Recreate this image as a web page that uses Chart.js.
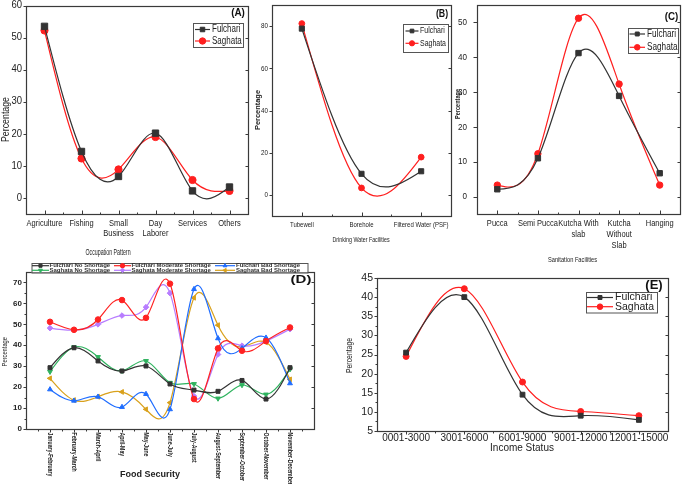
<!DOCTYPE html>
<html><head><meta charset="utf-8">
<script src="https://cdn.jsdelivr.net/npm/chart.js@4.4.1/dist/chart.umd.min.js"></script>
<style>
html,body{margin:0;padding:0;background:#fff;}
#wrap{position:relative;width:685px;height:484px;overflow:hidden;background:#fff;}
#wrap canvas{position:absolute;left:0;top:0;}
</style></head><body><div id="wrap"></div>
<script>
// ---------------- DATA ----------------
const occCategories = [['Agriculture'], ['Fishing'], ['Small', 'Business'], ['Day', 'Laborer'], ['Services'], ['Others']];
const occFulchari = [53.5, 14.5, 6.7, 20.2, 2.2, 3.4];
const occSaghata  = [52.2, 12.3, 8.9, 19.0, 5.6, 2.2];
const occTicks = [0, 10, 20, 30, 40, 50, 60];

const waterCategories = [['Tubewell'], ['Borehole'], ['Filtered Water (PSF)']];
const waterFulchari = [78.8, 10.0, 11.2];
const waterSaghata  = [81.2, 3.3, 17.9];
const waterTicks = [0, 20, 40, 60, 80];

const sanCategories = [['Pucca'], ['Semi Pucca'], ['Kutcha With', 'slab'], ['Kutcha', 'Without', 'Slab'], ['Hanging']];
const sanFulchari = [2.1, 11.0, 41.2, 28.9, 6.7];
const sanSaghata  = [3.3, 12.3, 51.2, 32.3, 3.3];
const sanTicks = [0, 10, 20, 30, 40, 50];

const foodPeriods = ['January-February', 'February-March', 'March-April', 'April-May', 'May-June', 'June-July',
  'July-August', 'August-September', 'September-October', 'October-November', 'November-December'];
const fulchariNoShortage       = [29.3, 38.8, 32.5, 27.7, 30.1, 21.5, 18.6, 18.0, 23.2, 14.3, 29.3];
const fulchariModerateShortage = [51.2, 47.4, 52.3, 61.6, 53.1, 69.4, 14.3, 38.5, 37.4, 42.0, 48.5];
const fulchariBadShortage      = [18.9, 13.5, 15.4, 10.5, 16.7, 9.4, 66.8, 43.3, 38.5, 43.6, 21.8];
const saghataNoShortage        = [27.4, 39.1, 34.4, 27.8, 32.5, 22.1, 21.5, 14.6, 21.0, 16.5, 28.6];
const saghataModerateShortage  = [48.2, 47.2, 50.0, 54.2, 58.2, 64.9, 15.7, 35.6, 39.8, 42.0, 47.7];
const saghataBadShortage       = [24.2, 13.8, 15.4, 17.7, 9.4, 12.6, 62.7, 49.6, 39.3, 41.4, 23.7];
const foodTicks = [0, 10, 20, 30, 40, 50, 60, 70];

const incomeCategories = [['0001-3000'], ['3001-6000'], ['6001-9000'], ['9001-12000'], ['12001-15000']];
const incomeFulchari = [25.5, 40.0, 14.5, 9.0, 7.9];
const incomeSaghata  = [24.5, 42.2, 17.8, 10.1, 9.0];
const incomeTicks = [5, 10, 15, 20, 25, 30, 35, 40, 45];

const seriesNames = ['Fulchari', 'Saghata'];
const foodSeriesNames = ['Fulchari No Shortage', 'Fulchari Moderate Shortage', 'Fulchari Bad Shortage',
  'Saghata No Shortage', 'Saghata Moderate Shortage', 'Saghata Bad Shortage'];
const yTitleText = 'Percentage';
const titles = {A: 'Occupation Pattern', B: 'Drinking Water Facilities', C: 'Sanitation Facilities', D: 'Food Security', E: 'Income Status'};

// ---------------- STYLE ----------------
const W = 685, H = 484;
const SANS = "'Liberation Sans', Arial, Helvetica, sans-serif";
const AXIS = '#3a3a3a';
const TEXT = '#222';
const C_F = '#333333', C_S = '#ff1f1f';
const D_COLORS = ['#333333', '#ff2222', '#1f6dff', '#2fb35f', '#b77cff', '#d9a11c'];
const D_STYLES = [['rect', 0], ['circle', 0], ['triangle', 0], ['triangle', 180], ['rectRot', 0], ['triangle', 270]];

const specs = {};
const wrap = document.getElementById('wrap');

function T(ctx, str, x, y, f) {
  ctx.save();
  ctx.translate(x, y);
  if (f.rot) ctx.rotate(f.rot * Math.PI / 180);
  ctx.scale(f.sx || 1, 1);
  ctx.font = (f.bold ? 'bold ' : '') + f.size + 'px ' + SANS;
  ctx.fillStyle = f.color || TEXT;
  ctx.textAlign = f.align || 'center';
  ctx.textBaseline = f.baseline || 'middle';
  ctx.fillText(str, 0, 0);
  ctx.restore();
}

function marker(ctx, style, r, rot, x, y, color) {
  ctx.save();
  ctx.fillStyle = color; ctx.strokeStyle = color; ctx.lineWidth = 1;
  ctx.translate(x, y); ctx.rotate((rot || 0) * Math.PI / 180);
  ctx.beginPath();
  if (style === 'rect') { const s = r * Math.SQRT1_2; ctx.rect(-s, -s, 2 * s, 2 * s); }
  else if (style === 'circle') { ctx.arc(0, 0, r, 0, Math.PI * 2); }
  else if (style === 'rectRot') { ctx.moveTo(0, -r); ctx.lineTo(r, 0); ctx.lineTo(0, r); ctx.lineTo(-r, 0); ctx.closePath(); }
  else if (style === 'triangle') {
    for (let k = 0; k < 3; k++) { const a = k * 2 * Math.PI / 3; const px = Math.sin(a) * r, py = -Math.cos(a) * r; k ? ctx.lineTo(px, py) : ctx.moveTo(px, py); }
    ctx.closePath();
  }
  ctx.fill(); ctx.stroke();
  ctx.restore();
}

function line(ctx, x0, y0, x1, y1) { ctx.beginPath(); ctx.moveTo(x0, y0); ctx.lineTo(x1, y1); ctx.stroke(); }

// Natural cubic spline tangents (in pixel space), applied as the line element's bezier control points
function splineSlopes(X, Y) {
  const n = X.length;
  const h = [];
  for (let i = 0; i < n - 1; i++) h.push(X[i + 1] - X[i]);
  const M = new Array(n).fill(0);
  if (n > 2) {
    const a = [], b = [], c = [], d = [];
    for (let i = 1; i < n - 1; i++) {
      a.push(h[i - 1]); b.push(2 * (h[i - 1] + h[i])); c.push(h[i]);
      d.push(6 * ((Y[i + 1] - Y[i]) / h[i] - (Y[i] - Y[i - 1]) / h[i - 1]));
    }
    const m = b.length;
    for (let i = 1; i < m; i++) { const w = a[i] / b[i - 1]; b[i] -= w * c[i - 1]; d[i] -= w * d[i - 1]; }
    const sol = new Array(m);
    sol[m - 1] = d[m - 1] / b[m - 1];
    for (let i = m - 2; i >= 0; i--) sol[i] = (d[i] - c[i] * sol[i + 1]) / b[i];
    for (let i = 0; i < m; i++) M[i + 1] = sol[i];
  }
  const s = [];
  for (let i = 0; i < n - 1; i++) s.push((Y[i + 1] - Y[i]) / h[i] - h[i] * (2 * M[i] + M[i + 1]) / 6);
  s.push((Y[n - 1] - Y[n - 2]) / h[n - 2] + h[n - 2] * (M[n - 2] + 2 * M[n - 1]) / 6);
  return s;
}

const splinePlugin = {
  id: 'splineCP',
  beforeDatasetsDraw(chart) {
    chart.data.datasets.forEach((ds, di) => {
      const meta = chart.getDatasetMeta(di);
      const pts = meta.data;
      if (!pts || pts.length < 2) return;
      const X = pts.map(p => p.x), Y = pts.map(p => p.y);
      const s = splineSlopes(X, Y);
      for (let i = 0; i < pts.length; i++) {
        const hp = i > 0 ? (X[i] - X[i - 1]) / 3 : 0;
        const hn = i < pts.length - 1 ? (X[i + 1] - X[i]) / 3 : 0;
        pts[i].cp1x = X[i] - hp; pts[i].cp1y = Y[i] - s[i] * hp;
        pts[i].cp2x = X[i] + hn; pts[i].cp2y = Y[i] + s[i] * hn;
      }
      if (meta.dataset) { meta.dataset._pointsUpdated = true; meta.dataset._path = undefined; }
    });
  }
};

const deco = {
  id: 'deco',
  afterDraw(chart) {
    const d = specs[chart.canvas.id];
    if (!d) return;
    const ctx = chart.ctx, a = chart.chartArea, xs = chart.scales.x, ys = chart.scales.y;
    const L = Math.round(a.left) + 0.5, R = Math.round(a.right) + 0.5, Tp = Math.round(a.top) + 0.5, B = Math.round(a.bottom) + 0.5;
    ctx.save();
    ctx.strokeStyle = AXIS; ctx.lineWidth = 1.2;
    ctx.strokeRect(L, Tp, R - L, B - Tp);
    const yMaj = ys.ticks.map(t => t.value);
    const yStep = yMaj[1] - yMaj[0];
    const yMin = [];
    for (let v = yMaj[0] - yStep / 2; v < ys.max; v += yStep) if (v > ys.min) yMin.push(v);
    let xMaj = [], xMin = [];
    if (xs.type === 'category') {
      const n = xs.getLabels().length;
      for (let i = 0; i < n; i++) xMaj.push(i);
      for (let i = 0; i < n - 1; i++) xMin.push(i + 0.5);
    } else {
      xMaj = xs.ticks.map(t => t.value);
      for (let v = xMaj[0] - 0.5; v < xs.max; v += 1) if (v > xs.min) xMin.push(v);
    }
    ctx.lineWidth = 1;
    const tk = d.ticks;
    const sides = {
      left:   (vals, len, dir) => vals.forEach(v => { const p = Math.round(ys.getPixelForValue(v)) + 0.5; line(ctx, L, p, L - dir * len, p); }),
      right:  (vals, len, dir) => vals.forEach(v => { const p = Math.round(ys.getPixelForValue(v)) + 0.5; line(ctx, R, p, R + dir * len, p); }),
      bottom: (vals, len, dir) => vals.forEach(v => { const p = Math.round(xs.getPixelForValue(v)) + 0.5; line(ctx, p, B, p, B + dir * len); }),
      top:    (vals, len, dir) => vals.forEach(v => { const p = Math.round(xs.getPixelForValue(v)) + 0.5; line(ctx, p, Tp, p, Tp - dir * len); })
    };
    for (const s in tk) {
      const o = tk[s]; if (!o) continue;
      const dir = o.dir === 'out' ? 1 : -1;
      const isY = s === 'left' || s === 'right';
      sides[s](isY ? yMaj : xMaj, o.len, dir);
      if (o.minor) sides[s](isY ? yMin : xMin, o.minor, dir);
    }
    yMaj.forEach(v => T(ctx, String(v), d.yLabels.x, ys.getPixelForValue(v), Object.assign({align: 'right'}, d.yLabels.font)));
    const xl = d.xLabels;
    xl.labels.forEach((lab, i) => {
      const px = xs.getPixelForValue(i);
      if (xl.rotate) {
        T(ctx, lab, px, xl.y, Object.assign({align: 'left', rot: 90}, xl.font));
      } else {
        lab.forEach((ln, j) => T(ctx, ln, px, xl.y + j * xl.lh, xl.font));
      }
    });
    if (d.xTitle) T(ctx, d.xTitle.text, d.xTitle.x, d.xTitle.y, d.xTitle.font);
    if (d.yTitle) T(ctx, d.yTitle.text, d.yTitle.x, d.yTitle.y, Object.assign({rot: -90}, d.yTitle.font));
    if (d.letter) T(ctx, d.letter.text, d.letter.x, d.letter.y, d.letter.font);
    const lg = d.legend;
    if (lg) {
      ctx.fillStyle = '#fff';
      ctx.fillRect(lg.box[0], lg.box[1], lg.box[2], lg.box[3]);
      ctx.strokeStyle = '#555'; ctx.lineWidth = 1;
      ctx.strokeRect(lg.box[0] + 0.5, lg.box[1] + 0.5, lg.box[2], lg.box[3]);
      lg.items.forEach(it => {
        const ds = chart.data.datasets[it.ds];
        ctx.strokeStyle = ds.borderColor; ctx.lineWidth = 1.2;
        line(ctx, it.x0, it.y, it.x1, it.y);
        marker(ctx, ds.pointStyle, lg.r, ds.pointRotation || 0, (it.x0 + it.x1) / 2, it.y, ds.borderColor);
        T(ctx, ds.label, it.tx, it.y, Object.assign({align: 'left'}, lg.font));
      });
    }
    ctx.restore();
  }
};

function makePanel(id, p) {
  const cv = document.createElement('canvas');
  cv.id = id; cv.width = W; cv.height = H;
  cv.style.width = W + 'px'; cv.style.height = H + 'px';
  wrap.appendChild(cv);
  specs[id] = p.deco;
  const r = p.rect;
  const xScale = p.xLinear
    ? {type: 'linear', min: p.xMin, max: p.xMax,
       afterBuildTicks: s => { s.ticks = p.xTickValues.map(v => ({value: v})); }}
    : {type: 'category', offset: true};
  Object.assign(xScale, {
    grid: {display: false, drawTicks: false, tickLength: 0},
    border: {display: false},
    ticks: {display: false},
    afterFit: s => { s.height = H - r.b; s.paddingLeft = 0; s.paddingRight = 0; }
  });
  return new Chart(cv, {
    type: 'line',
    data: {labels: p.labels, datasets: p.datasets},
    options: {
      responsive: false, animation: false, devicePixelRatio: 1,
      layout: {padding: {left: 0, top: r.t, right: W - r.r, bottom: 0}},
      plugins: {legend: {display: false}, tooltip: {enabled: false}, title: {display: false}},
      elements: {line: {tension: 0.4, borderWidth: 1.2, fill: false}},
      scales: {
        x: xScale,
        y: {
          type: 'linear', min: p.yMin, max: p.yMax,
          grid: {display: false, drawTicks: false, tickLength: 0},
          border: {display: false},
          ticks: {display: false},
          afterBuildTicks: s => { s.ticks = p.yTicks.map(v => ({value: v})); },
          afterFit: s => { s.width = r.l; s.paddingTop = 0; s.paddingBottom = 0; }
        }
      }
    },
    plugins: [splinePlugin, deco]
  });
}

function pairDatasets(fData, sData, rr, rc) {
  return [
    {label: seriesNames[0], data: fData, borderColor: C_F, backgroundColor: C_F, pointStyle: 'rect', pointRadius: rr,
     pointBackgroundColor: C_F, pointBorderColor: C_F, pointBorderWidth: 1},
    {label: seriesNames[1], data: sData, borderColor: C_S, backgroundColor: C_S, pointStyle: 'circle', pointRadius: rc,
     pointBackgroundColor: C_S, pointBorderColor: C_S, pointBorderWidth: 1}
  ];
}

// ---------- Panel A ----------
makePanel('pA', {
  rect: {l: 26, t: 4, r: 248, b: 214},
  labels: occCategories.map(c => c.join(' ')),
  yMin: -5, yMax: 60, yTicks: occTicks,
  datasets: pairDatasets(occFulchari, occSaghata, 4.5, 3.6),
  deco: {
    ticks: {left: {dir: 'out', len: 3}, right: {dir: 'in', len: 3}, bottom: {dir: 'in', len: 4, minor: 2}},
    yLabels: {x: 22, font: {size: 10, sx: 0.95}},
    xLabels: {labels: occCategories, y: 223, lh: 10.5, font: {size: 9.5, sx: 0.79}},
    xTitle: {text: titles.A, x: 108, y: 253, font: {size: 8.5, sx: 0.62}},
    yTitle: {text: yTitleText, x: 6, y: 119.5, font: {size: 10, sx: 0.88}},
    letter: {text: '(A)', x: 238, y: 13, font: {size: 11, bold: true, sx: 0.9, color: '#111'}},
    legend: {box: [193, 23, 50, 24], r: 3.2, font: {size: 10, sx: 0.8},
      items: [{ds: 0, x0: 195, x1: 210, y: 29.5, tx: 212}, {ds: 1, x0: 195, x1: 210, y: 41, tx: 212}]}
  }
});

// ---------- Panel B ----------
makePanel('pB', {
  rect: {l: 272, t: 4, r: 451, b: 216},
  labels: waterCategories.map(c => c.join(' ')),
  yMin: -10, yMax: 90, yTicks: waterTicks,
  datasets: pairDatasets(waterFulchari, waterSaghata, 3.6, 2.9),
  deco: {
    ticks: {left: {dir: 'out', len: 3}, right: {dir: 'in', len: 3}, bottom: {dir: 'in', len: 4, minor: 2}},
    yLabels: {x: 268, font: {size: 8, sx: 0.78}},
    xLabels: {labels: waterCategories, y: 225, lh: 10, font: {size: 8, sx: 0.75}},
    xTitle: {text: titles.B, x: 361, y: 239.5, font: {size: 7.5, sx: 0.71}},
    yTitle: {text: yTitleText, x: 257.7, y: 110, font: {size: 8, bold: true, sx: 0.93}},
    letter: {text: '(B)', x: 442, y: 14, font: {size: 11, bold: true, sx: 0.8, color: '#111'}},
    legend: {box: [403, 24, 45, 28], r: 2.6, font: {size: 8.5, sx: 0.82},
      items: [{ds: 0, x0: 405.5, x1: 418.5, y: 31, tx: 420}, {ds: 1, x0: 405.5, x1: 418.5, y: 43.3, tx: 420}]}
  }
});

// ---------- Panel C ----------
makePanel('pC', {
  rect: {l: 477, t: 5, r: 684, b: 214},
  labels: sanCategories.map(c => c.join(' ')),
  yMin: -5, yMax: 55, yTicks: sanTicks,
  datasets: pairDatasets(sanFulchari, sanSaghata, 3.8, 3.2),
  deco: {
    ticks: {left: {dir: 'out', len: 4}, right: {dir: 'in', len: 3}, bottom: {dir: 'in', len: 4, minor: 2}},
    yLabels: {x: 467, font: {size: 9.5, sx: 0.85}},
    xLabels: {labels: sanCategories, y: 223.3, lh: 11, font: {size: 9.5, sx: 0.79}},
    xTitle: {text: titles.C, x: 572.5, y: 260, font: {size: 7.5, sx: 0.76}},
    yTitle: {text: yTitleText, x: 458, y: 104, font: {size: 7, bold: true, sx: 0.8}},
    letter: {text: '(C)', x: 671.5, y: 17.3, font: {size: 11.5, bold: true, sx: 0.85, color: '#111'}},
    legend: {box: [628, 28, 50, 25], r: 2.8, font: {size: 10, sx: 0.82},
      items: [{ds: 0, x0: 629.5, x1: 645, y: 34, tx: 647}, {ds: 1, x0: 629.5, x1: 645, y: 47.3, tx: 647}]}
  }
});

// ---------- Panel D ----------
const foodSeries = [fulchariNoShortage, fulchariModerateShortage, fulchariBadShortage,
  saghataNoShortage, saghataModerateShortage, saghataBadShortage];
makePanel('pD', {
  rect: {l: 26, t: 272, r: 314, b: 429},
  xLinear: true, xMin: -1, xMax: 11, xTickValues: foodPeriods.map((_, i) => i),
  yMin: 0, yMax: 75, yTicks: foodTicks,
  datasets: foodSeries.map((arr, k) => ({
    label: foodSeriesNames[k],
    data: arr.map((v, i) => ({x: i, y: v})),
    borderColor: D_COLORS[k], backgroundColor: D_COLORS[k],
    pointStyle: D_STYLES[k][0], pointRotation: D_STYLES[k][1], pointRadius: 2.8,
    pointBackgroundColor: D_COLORS[k], pointBorderColor: D_COLORS[k], pointBorderWidth: 1
  })),
  deco: {
    ticks: {left: {dir: 'out', len: 3, minor: 2}, right: {dir: 'in', len: 3}, bottom: {dir: 'out', len: 3, minor: 2}},
    yLabels: {x: 22, font: {size: 8, bold: true}},
    xLabels: {labels: foodPeriods, rotate: true, y: 432.5, font: {size: 8, bold: true, sx: 0.65}},
    xTitle: {text: titles.D, x: 150, y: 475, font: {size: 9, bold: true}},
    yTitle: {text: yTitleText, x: 5, y: 351.7, font: {size: 8, sx: 0.72}},
    letter: {text: '(D)', x: 301, y: 280, font: {size: 10, bold: true, sx: 1.5, color: '#111'}},
    legend: {box: [31.5, 263, 276, 9.5], r: 2.2, font: {size: 6, bold: true, color: '#333'},
      items: [
        {ds: 0, x0: 32, x1: 49, y: 265.7, tx: 49.5},
        {ds: 1, x0: 114, x1: 131, y: 265.7, tx: 131.5},
        {ds: 2, x0: 215, x1: 235, y: 265.7, tx: 236},
        {ds: 3, x0: 32, x1: 49, y: 270.3, tx: 49.5},
        {ds: 4, x0: 114, x1: 131, y: 270.3, tx: 131.5},
        {ds: 5, x0: 215, x1: 235, y: 270.3, tx: 236}
      ]}
  }
});

// ---------- Panel E ----------
makePanel('pE', {
  rect: {l: 377, t: 278, r: 668, b: 431},
  labels: incomeCategories.map(c => c.join(' ')),
  yMin: 5, yMax: 45, yTicks: incomeTicks,
  datasets: pairDatasets(incomeFulchari, incomeSaghata, 3.4, 3.0),
  deco: {
    ticks: {left: {dir: 'out', len: 3, minor: 2}, right: {dir: 'in', len: 3}, bottom: {dir: 'out', len: 3, minor: 2}},
    yLabels: {x: 373, font: {size: 10.5}},
    xLabels: {labels: incomeCategories, y: 438, lh: 11, font: {size: 10}},
    xTitle: {text: titles.E, x: 522, y: 448.5, font: {size: 10}},
    yTitle: {text: yTitleText, x: 350, y: 355.5, font: {size: 9, sx: 0.76}},
    letter: {text: '(E)', x: 654, y: 285.5, font: {size: 13, bold: true, color: '#111'}},
    legend: {box: [586, 292, 71, 20.5], r: 2.8, font: {size: 10.5},
      items: [{ds: 0, x0: 587, x1: 613, y: 297.5, tx: 615}, {ds: 1, x0: 587, x1: 613, y: 306.7, tx: 615}]}
  }
});
</script>
</body></html>
